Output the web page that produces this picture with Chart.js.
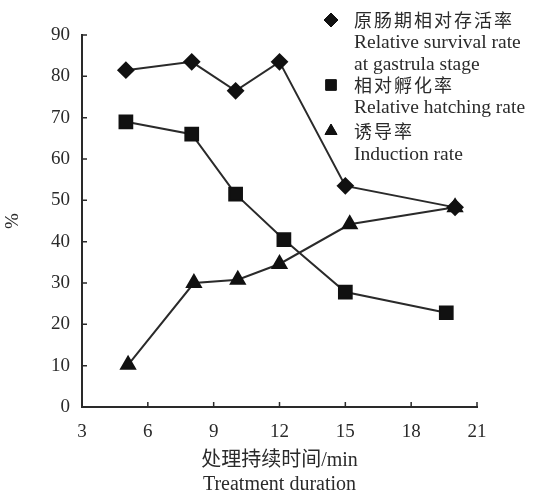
<!DOCTYPE html>
<html>
<head>
<meta charset="utf-8">
<script src="https://cdn.jsdelivr.net/npm/chart.js@4"></script>
<style>
  html, body { margin: 0; padding: 0; background: #fff; }
  #wrap { width: 536px; height: 497px; position: relative; }
</style>
</head>
<body>
<div id="wrap"><canvas id="myChart"></canvas></div>
<script>
// Data
const survivalX = [5, 8, 10, 12, 15, 20];
const survivalY = [81.5, 83.5, 76.5, 83.5, 53.5, 48.3];
const hatchingX = [5, 8, 10, 12.2, 15, 19.6];
const hatchingY = [69, 66, 51.5, 40.5, 27.8, 22.8];
const inductionX = [5.1, 8.1, 10.1, 12, 15.2, 20];
const inductionY = [10.2, 30, 30.8, 34.6, 44.2, 48.3];
const xTicks = [3, 6, 9, 12, 15, 18, 21];
const yTicks = [0, 10, 20, 30, 40, 50, 60, 70, 80, 90];
const legendLabels = [
  ['原肠期相对存活率', 'Relative survival rate', 'at gastrula stage'],
  ['相对孵化率', 'Relative hatching rate'],
  ['诱导率', 'Induction rate']
];

const ink = '#2a2a2a';
const serif = "'Liberation Serif', 'DejaVu Serif', serif";
const cjk = "'Noto Sans CJK SC', sans-serif";

const toPoints = (xs, ys) => xs.map((x, i) => ({ x, y: ys[i] }));

const series = [
  { data: toPoints(survivalX, survivalY), pointStyle: 'rectRot', pointRadius: 7.5 },
  { data: toPoints(hatchingX, hatchingY), pointStyle: 'rect', pointRadius: 9 },
  { data: toPoints(inductionX, inductionY), pointStyle: 'triangle', pointRadius: 8 }
];

// small inward tick marks on both axes
const innerTicks = {
  id: 'innerTicks',
  afterDraw(chart) {
    const { ctx, scales: { x, y } } = chart;
    ctx.save();
    ctx.strokeStyle = ink;
    ctx.lineWidth = 1.5;
    ctx.beginPath();
    xTicks.forEach(v => {
      const px = x.getPixelForValue(v);
      ctx.moveTo(px, y.bottom);
      ctx.lineTo(px, y.bottom - 5);
    });
    yTicks.forEach(v => {
      const py = y.getPixelForValue(v);
      ctx.moveTo(x.left, py);
      ctx.lineTo(x.left + 5, py);
    });
    ctx.stroke();
    ctx.restore();
  }
};

// legend drawn in the upper right, overlapping the plot
const sideLegend = {
  id: 'sideLegend',
  afterDraw(chart) {
    const ctx = chart.ctx;
    const markX = 331, textX = 354;
    const rowY = [20, 43, 65, 85, 108, 131, 155];
    const sizes = [7, 7.5, 7];
    let k = 0;
    ctx.save();
    ctx.textBaseline = 'middle';
    legendLabels.forEach((lines, i) => {
      ctx.fillStyle = '#111';
      ctx.strokeStyle = '#111';
      Chart.helpers.drawPoint(ctx, { pointStyle: series[i].pointStyle, radius: sizes[i], rotation: 0, borderWidth: 1 }, markX, rowY[k]);
      ctx.fill();
      lines.forEach((t, j) => {
        ctx.fillStyle = ink;
        if (j === 0) {
          ctx.font = '18px ' + cjk;
          ctx.letterSpacing = '2px';
        } else {
          ctx.font = '19.5px ' + serif;
          ctx.letterSpacing = '0px';
        }
        ctx.fillText(t, textX, rowY[k]);
        k++;
      });
    });
    ctx.restore();
  }
};

new Chart(document.getElementById('myChart'), {
  type: 'scatter',
  data: {
    datasets: series.map(s => ({
      data: s.data,
      showLine: true,
      borderColor: ink,
      borderWidth: 2,
      backgroundColor: '#111',
      pointBorderColor: '#111',
      pointBackgroundColor: '#111',
      pointStyle: s.pointStyle,
      pointRadius: s.pointRadius,
      pointHoverRadius: s.pointRadius
    }))
  },
  options: {
    responsive: true,
    maintainAspectRatio: false,
    animation: false,
    events: [],
    layout: { padding: { top: 35, right: 59, left: 0, bottom: 0 } },
    plugins: { legend: { display: false }, tooltip: { enabled: false } },
    scales: {
      x: {
        type: 'linear',
        min: 3, max: 21,
        afterBuildTicks: s => { s.ticks = xTicks.map(v => ({ value: v })); },
        afterFit: s => { s.height = 90; },
        grid: { display: false, drawTicks: false },
        border: { display: true, color: ink, width: 2 },
        ticks: { color: ink, padding: 14, font: { family: serif, size: 19 } },
        title: {
          display: true,
          text: ['处理持续时间/min', 'Treatment duration'],
          color: ink,
          padding: { top: 0, bottom: 0 },
          font: { family: "'Liberation Serif', 'Noto Sans CJK SC', serif", size: 20, lineHeight: 1.2 }
        }
      },
      y: {
        min: 0, max: 90,
        afterBuildTicks: s => { s.ticks = yTicks.map(v => ({ value: v })); },
        afterFit: s => { s.width = 82; },
        grid: { display: false, drawTicks: false },
        border: { display: true, color: ink, width: 2 },
        ticks: { color: ink, padding: 12, font: { family: serif, size: 19 } },
        title: {
          display: true,
          text: '%',
          color: ink,
          padding: { top: 2, bottom: 0 },
          font: { family: serif, size: 19 }
        }
      }
    }
  },
  plugins: [innerTicks, sideLegend]
});
</script>
</body>
</html>
